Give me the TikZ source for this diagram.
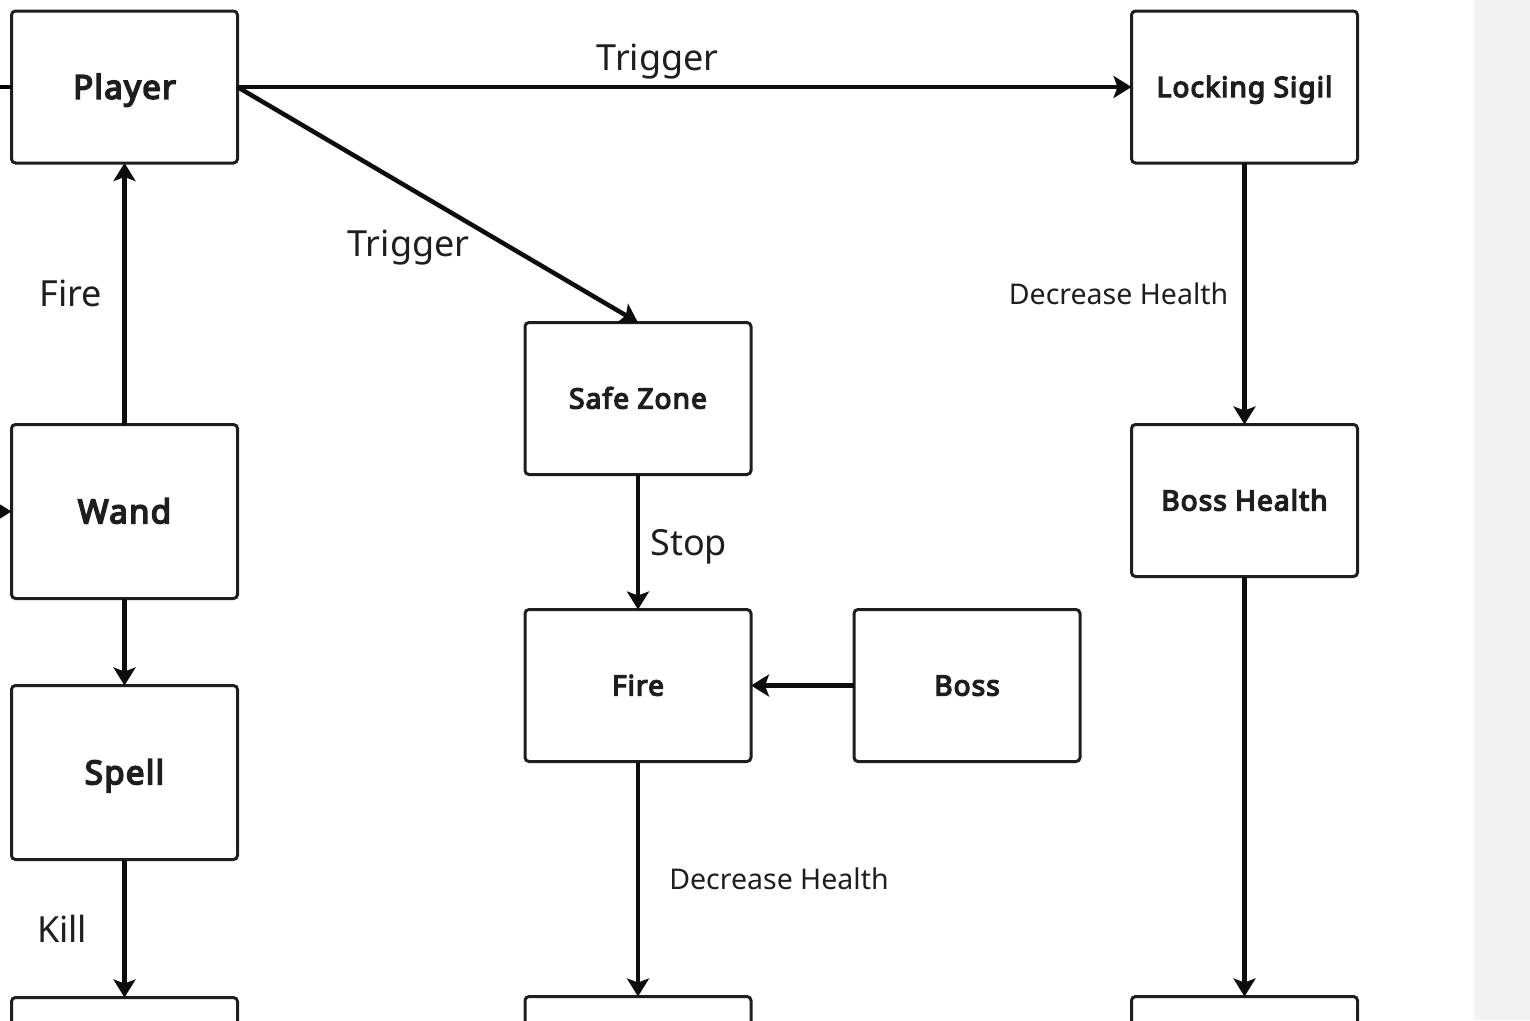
\documentclass[tikz,border=0pt]{standalone}
\usepackage{fontspec}
\setmainfont{Noto Sans}
\newfontfamily\boxfont{Noto Sans}[AutoFakeBold=5, LetterSpace=4]
\usetikzlibrary{positioning, arrows.meta}
\definecolor{ink}{HTML}{1E1E1E}
\definecolor{band}{HTML}{F2F2F2}
\tikzset{
  block/.style={draw=ink, line width=3pt, rounded corners=4pt, fill=white,
    minimum width=226pt, minimum height=152pt, inner sep=0pt, outer sep=0pt,
    text=ink, font=\boxfont\fontsize{28}{32}\selectfont\bfseries,
    text height=20pt, text depth=0pt},
  big/.style={font=\boxfont\fontsize{33}{38}\selectfont\bfseries, text height=23.5pt},
  tall/.style={minimum height=174pt},
  lbl/.style={font=\fontsize{36}{40}\selectfont, text=ink, inner sep=2pt},
  smalllbl/.style={font=\fontsize{28.5}{32}\selectfont, text=ink, inner sep=2pt},
  arr/.style={line width=4.5pt, draw=black!95, -{Stealth[length=18pt, width=22pt, inset=4pt]}}
}
\begin{document}
\begin{tikzpicture}[x=1pt, y=1pt]
  \useasboundingbox (0,0) rectangle (1530,-1020);
  \clip (0,0) rectangle (1530,-1020);
  \fill[band] (1474,0) rectangle (1530,-1020);
  \node[block, big] (p) at (124.5,-87) {Player};
  \node[block, right=894pt of p] (ls) {Locking Sigil};
  \node[block, big, tall, below=261.5pt of p] (w) {Wand};
  \node[block, big, tall, below=87pt of w] (s) {Spell};
  \node[block, below=138pt of s] (k) {};
  \node[block] (sz) at (638,-398.5) {Safe Zone};
  \node[block, below=135pt of sz] (f) {Fire};
  \node[block, right=103pt of f] (b) {Boss};
  \node[block, below=235pt of f] (d) {};
  \node[block, below=261.5pt of ls] (bh) {Boss Health};
  \node[block, below=420pt of bh] (e) {};
  \coordinate (in1) at (-40,-87);
  \coordinate (in2) at (-40,-511.5);
  \draw[line width=4.5pt] (in1) -- (p);
  \draw[arr] (in2) -- (w);
  \draw[arr] (p) -- node[lbl, above=4pt, pos=0.47] (t1) {Trigger} (ls);
  \draw[arr] (p.east) -- node[lbl, anchor=north east, pos=0.59] (t2) {Trigger} (sz.north);
  \draw[arr] (w) -- node[lbl, left=18pt] (t3) {Fire} (p);
  \draw[arr] (w) -- (s);
  \draw[arr] (s) -- node[lbl, left=33pt] (t4) {Kill} (k);
  \draw[arr] (sz) -- node[lbl, right=8pt, yshift=-5pt] (t5) {Stop} (f);
  \draw[arr] (b) -- (f);
  \draw[arr] (f) -- node[smalllbl, right=27pt] (t6) {Decrease Health} (d);
  \draw[arr] (ls) -- node[smalllbl, left=12pt] (t7) {Decrease Health} (bh);
  \draw[arr] (bh) -- (e);
\end{tikzpicture}
\end{document}
